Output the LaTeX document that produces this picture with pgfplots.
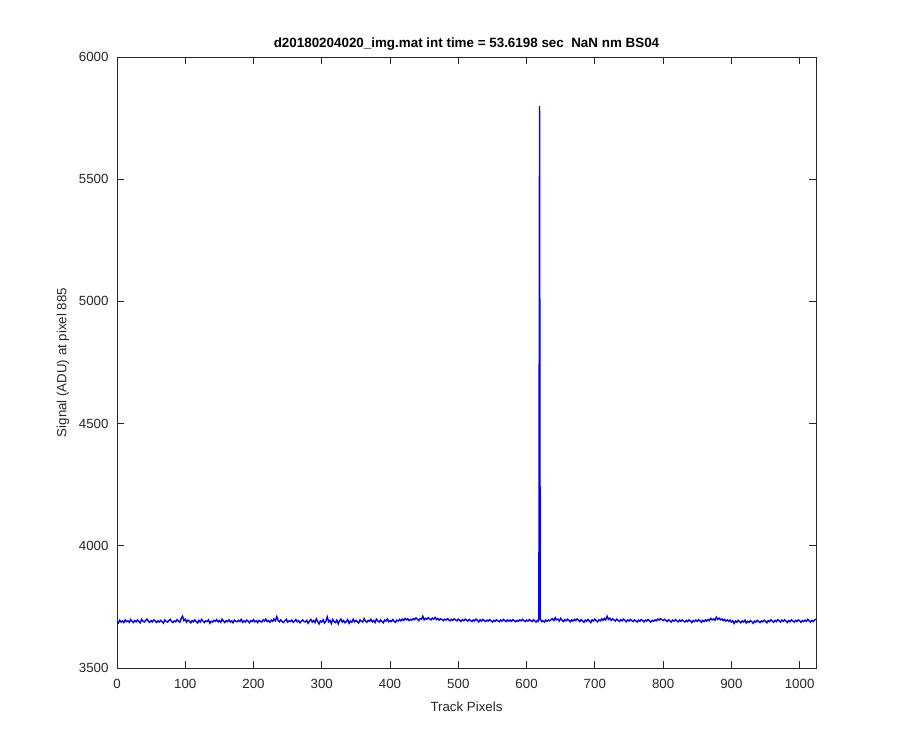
\documentclass[border=0pt]{standalone}
\usepackage{fontspec}
\setmainfont{Liberation Sans}
\usepackage{pgfplots}
\usepackage{pgfplotstable}
\pgfplotsset{compat=1.18}
\definecolor{axgray}{gray}{0.15}
\pgfplotstableread{
x y
0 3690
2 3684
4 3695
6 3688
8 3692
10 3686
12 3697
14 3690
16 3693
18 3687
20 3698
22 3691
24 3686
26 3694
28 3689
30 3696
32 3690
34 3685
36 3699
38 3692
40 3688
42 3695
44 3700
46 3691
48 3687
50 3694
52 3689
54 3697
56 3692
58 3686
60 3693
62 3688
64 3695
66 3690
68 3684
70 3697
72 3691
74 3688
76 3694
78 3699
80 3690
82 3686
84 3693
86 3689
88 3698
90 3692
92 3687
94 3703
96 3712
98 3694
100 3700
102 3688
104 3696
106 3691
108 3685
110 3694
112 3689
114 3697
116 3690
118 3684
120 3695
122 3688
124 3699
126 3692
128 3686
130 3693
132 3690
134 3697
136 3683
138 3691
140 3688
142 3695
144 3691
146 3698
148 3689
150 3694
152 3687
154 3700
156 3692
158 3686
160 3694
162 3690
164 3697
166 3688
168 3693
170 3685
172 3696
174 3691
176 3689
178 3695
180 3690
182 3699
184 3687
186 3693
188 3688
190 3696
192 3692
194 3685
196 3694
198 3690
200 3698
202 3689
204 3693
206 3686
208 3695
210 3691
212 3688
214 3697
216 3692
218 3700
220 3690
222 3694
224 3687
226 3696
228 3691
230 3701
232 3693
234 3710
236 3695
238 3689
240 3697
242 3690
244 3686
246 3694
248 3699
250 3688
252 3693
254 3690
256 3696
258 3687
260 3692
262 3698
264 3689
266 3694
268 3685
270 3691
272 3697
274 3690
276 3688
278 3695
280 3683
282 3692
284 3699
286 3688
288 3694
290 3686
292 3701
294 3690
296 3680
298 3693
300 3688
302 3697
304 3684
306 3692
308 3709
310 3689
312 3695
314 3682
316 3699
318 3690
320 3686
322 3696
324 3680
326 3693
328 3700
330 3688
332 3694
334 3685
336 3690
338 3698
340 3683
342 3692
344 3687
346 3699
348 3689
350 3695
352 3690
354 3684
356 3697
358 3691
360 3688
362 3702
364 3692
366 3687
368 3695
370 3691
372 3699
374 3689
376 3694
378 3686
380 3700
382 3693
384 3688
386 3697
388 3690
390 3685
392 3696
394 3692
396 3701
398 3689
400 3694
402 3690
404 3698
406 3691
408 3687
410 3696
412 3692
414 3699
416 3693
418 3700
420 3695
422 3703
424 3697
426 3701
428 3694
430 3699
432 3696
434 3702
436 3698
438 3705
440 3699
442 3694
444 3702
446 3700
448 3712
450 3697
452 3703
454 3699
456 3706
458 3701
460 3697
462 3704
464 3700
466 3707
468 3698
470 3703
472 3696
474 3701
476 3699
478 3694
480 3700
482 3696
484 3702
486 3697
488 3693
490 3699
492 3695
494 3701
496 3697
498 3693
500 3700
502 3695
504 3691
506 3698
508 3694
510 3700
512 3696
514 3692
516 3699
518 3694
520 3690
522 3697
524 3693
526 3700
528 3695
530 3689
532 3697
534 3692
536 3699
538 3694
540 3690
542 3696
544 3692
546 3698
548 3693
550 3688
552 3695
554 3691
556 3697
558 3693
560 3689
562 3696
564 3692
566 3699
568 3694
570 3690
572 3697
574 3692
576 3696
578 3691
580 3698
582 3693
584 3689
586 3695
588 3691
590 3697
592 3693
594 3699
596 3694
598 3690
600 3696
602 3692
604 3698
606 3694
608 3690
610 3697
612 3693
614 3688
616 3695
617 3692
618 3700
619 5800
620 3702
621 3696
622 3690
624 3693
626 3688
628 3696
630 3691
632 3697
634 3693
636 3699
638 3701
640 3694
642 3706
644 3697
646 3700
648 3692
650 3703
652 3696
654 3690
656 3698
658 3693
660 3700
662 3695
664 3689
666 3697
668 3692
670 3699
672 3694
674 3701
676 3696
678 3690
680 3698
682 3693
684 3687
686 3696
688 3691
690 3699
692 3693
694 3686
696 3697
698 3692
700 3700
702 3694
704 3689
706 3697
708 3693
710 3701
712 3695
714 3703
716 3697
718 3712
720 3699
722 3704
724 3695
726 3701
728 3697
730 3692
732 3700
734 3695
736 3690
738 3698
740 3693
742 3700
744 3695
746 3689
748 3697
750 3692
752 3699
754 3694
756 3690
758 3697
760 3693
762 3688
764 3696
766 3691
768 3698
770 3694
772 3689
774 3696
776 3692
778 3699
780 3693
782 3688
784 3695
786 3691
788 3697
790 3693
792 3700
794 3696
796 3702
798 3698
800 3694
802 3699
804 3695
806 3690
808 3697
810 3693
812 3688
814 3696
816 3692
818 3698
820 3693
822 3689
824 3696
826 3691
828 3697
830 3692
832 3688
834 3695
836 3690
838 3697
840 3692
842 3686
844 3694
846 3690
848 3696
850 3691
852 3698
854 3693
856 3687
858 3695
860 3690
862 3697
864 3692
866 3699
868 3694
870 3703
872 3697
874 3701
876 3695
878 3708
880 3699
882 3704
884 3697
886 3701
888 3694
890 3699
892 3692
894 3697
896 3691
898 3696
900 3688
902 3694
904 3682
906 3692
908 3687
910 3695
912 3690
914 3685
916 3693
918 3688
920 3696
922 3684
924 3691
926 3687
928 3694
930 3689
932 3683
934 3692
936 3688
938 3695
940 3690
942 3686
944 3693
946 3689
948 3696
950 3691
952 3685
954 3694
956 3690
958 3697
960 3692
962 3687
964 3695
966 3690
968 3698
970 3693
972 3688
974 3696
976 3691
978 3697
980 3692
982 3686
984 3694
986 3690
988 3697
990 3692
992 3688
994 3695
996 3690
998 3697
1000 3693
1002 3687
1004 3694
1006 3690
1008 3696
1010 3691
1012 3699
1014 3693
1016 3688
1018 3695
1020 3690
1022 3697
1024 3700
}\sigdata
\begin{document}
\begin{tikzpicture}[x=1pt,y=1pt]
\path[use as bounding box] (0,0) rectangle (900,750);
\begin{axis}[
  at={(117pt,82pt)}, anchor=south west,
  scale only axis, width=699pt, height=611pt,
  xmin=0, xmax=1024, ymin=3500, ymax=6000,
  xtick={0,100,...,1000}, ytick={3500,4000,...,6000},
  tick align=inside, major tick length=7pt,
  axis line style={axgray, line width=0.8pt},
  tick style={axgray, line width=0.8pt},
  /pgf/number format/assume math mode=true,
  scaled ticks=false, /pgf/number format/1000 sep={},
  ticklabel style={font=\fontsize{13.3}{15}\selectfont, text=axgray},
  xticklabel style={yshift=-8pt},
  yticklabel style={xshift=-5pt},
  xlabel={Track Pixels}, ylabel={Signal (ADU) at pixel 885},
  label style={font=\fontsize{13.3}{15}\selectfont, text=axgray},
  xlabel style={yshift=-6pt},
  ylabel style={yshift=3pt},
  title={\textbf{d20180204020\_img.mat int time = 53.6198 sec\ \ NaN nm BS04}},
  title style={font=\fontsize{13.4}{15}\selectfont, yshift=-3pt},
]
\addplot[blue, line width=1.4pt] table[x=x, y=y] {\sigdata};
\end{axis}
\end{tikzpicture}
\end{document}
